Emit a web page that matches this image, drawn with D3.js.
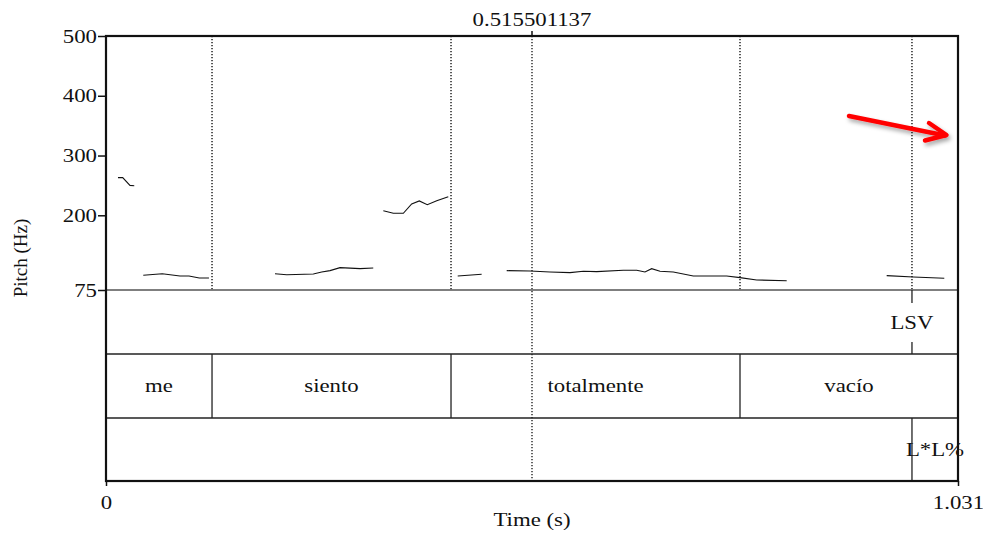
<!DOCTYPE html>
<html>
<head>
<meta charset="utf-8">
<script src="https://cdn.jsdelivr.net/npm/d3@7"></script>
<style>
  html, body { margin: 0; padding: 0; background: #fff; }
  svg { display: block; }
  text { font-family: "Liberation Serif", "Times New Roman", serif; fill: #111; }
</style>
</head>
<body>
<svg id="chart" width="983" height="534"></svg>
<script>
// Pitch contour (time in s, F0 in Hz), one array per voiced stretch
const pitchSeg1 = [[0.0145, 263], [0.0202, 263], [0.0290, 250], [0.0342, 249.5]];
const pitchSeg2 = [[0.0451, 99.6], [0.0681, 102.3], [0.0895, 98.5], [0.1004, 98.5], [0.1129, 95.1], [0.1246, 95.1]];
const pitchSeg3 = [[0.2045, 102.3], [0.2187, 100.6], [0.2509, 101.8], [0.2610, 105.2], [0.2711, 107.4], [0.2832, 112.4], [0.3074, 110.7], [0.3234, 111.9]];
const pitchSeg4 = [[0.3356, 207.7], [0.3477, 203.4], [0.3598, 203.4], [0.3699, 218.9], [0.3791, 224], [0.3888, 217.8], [0.4002, 224.5], [0.4142, 231.1]];
const pitchSeg5 = [[0.4256, 98.5], [0.4546, 101.3]];
const pitchSeg6 = [[0.4849, 107.4], [0.5131, 106.8], [0.5373, 105.2], [0.5615, 104], [0.5776, 106.3], [0.5938, 105.7], [0.6260, 108], [0.6422, 108], [0.6522, 105.2], [0.6603, 110.7], [0.6704, 106.3], [0.6865, 105.2], [0.7107, 98.5], [0.7511, 98.5], [0.7672, 95.7], [0.7874, 91.8], [0.8237, 90.6]];
const pitchSeg7 = [[0.9447, 99], [0.9769, 96.8], [1.0144, 94.6]];
const pitchSegments = [pitchSeg1, pitchSeg2, pitchSeg3, pitchSeg4, pitchSeg5, pitchSeg6, pitchSeg7];

// Tier 1 (point tier)
const pointTimes = [0.9753];
const pointLabels = ["LSV"];
// Tier 2 (words, interval tier)
const wordBounds = [0, 0.1283, 0.4175, 0.7672, 1.031];
const wordLabels = ["me", "siento", "totalmente", "vacío"];
// Tier 3 (tones, interval tier)
const toneBounds = [0, 0.9753, 1.031];
const toneLabels = ["", "L*L%"];

const cursorTime = 0.515501137;
const timeDomain = [0, 1.031];
const pitchDomain = [75, 500];
const pitchTicks = [75, 200, 300, 400, 500];
const timeTicks = [0, 1.031];

(function draw() {
  const plotLeft = 106, plotRight = 958, plotTop = 36, pitchBottom = 290, tierH = 64, nTiers = 3;
  const plotBottom = pitchBottom + tierH * nTiers - 1;
  const FS = 19, SX = 1.2; // text size and horizontal stretch
  const SERIF = "Liberation Serif, Times New Roman, serif";

  const svg = d3.select("#chart");
  const x = d3.scaleLinear().domain(timeDomain).range([plotLeft, plotRight]);
  const y = d3.scaleLinear().domain(pitchDomain).range([pitchBottom, plotTop]);

  function label(g, px, py, str, anchor) {
    g.append("text")
      .attr("transform", `translate(${px},${py}) scale(${SX},1)`)
      .attr("text-anchor", anchor || "middle")
      .attr("font-family", SERIF)
      .attr("font-size", FS)
      .text(str);
  }

  // shadow for the annotation arrow
  const defs = svg.append("defs");
  const f = defs.append("filter").attr("id", "shadow")
    .attr("x", "-20%").attr("y", "-50%").attr("width", "140%").attr("height", "200%");
  f.append("feDropShadow").attr("dx", 2).attr("dy", 3).attr("stdDeviation", 2)
    .attr("flood-color", "#000").attr("flood-opacity", 0.35);

  // dotted boundary lines through the pitch area
  const allBounds = [wordBounds[1], wordBounds[2], wordBounds[3], toneBounds[1]];
  svg.append("g").selectAll("line").data(allBounds).join("line")
    .attr("x1", d => x(d)).attr("x2", d => x(d))
    .attr("y1", plotTop).attr("y2", pitchBottom)
    .attr("stroke", "#000").attr("stroke-width", 1.3).attr("stroke-dasharray", "1.3,1.7");

  // cursor
  svg.append("line")
    .attr("x1", x(cursorTime)).attr("x2", x(cursorTime))
    .attr("y1", plotTop).attr("y2", plotBottom)
    .attr("stroke", "#111").attr("stroke-width", 1.3).attr("stroke-dasharray", "1.3,1.7");
  svg.append("line")
    .attr("x1", x(cursorTime)).attr("x2", x(cursorTime))
    .attr("y1", plotTop - 5).attr("y2", plotTop)
    .attr("stroke", "#111").attr("stroke-width", 1.5);
  label(svg, x(cursorTime), 25.5, d3.format(".9f")(cursorTime));

  // pitch contour
  const line = d3.line().x(d => x(d[0])).y(d => y(d[1]));
  svg.append("g").selectAll("path").data(pitchSegments).join("path")
    .attr("d", line).attr("fill", "none").attr("stroke", "#111").attr("stroke-width", 1.1);

  // tier separators
  const tierTops = d3.range(nTiers).map(i => pitchBottom + i * tierH);
  svg.append("g").selectAll("line").data(tierTops).join("line")
    .attr("x1", plotLeft).attr("x2", plotRight)
    .attr("y1", d => d).attr("y2", d => d)
    .attr("stroke", (d, i) => i === 0 ? "#555" : "#222").attr("stroke-width", 1.4);

  // tier 1: points
  const t1 = tierTops[0];
  pointTimes.forEach((t, i) => {
    svg.append("line").attr("x1", x(t)).attr("x2", x(t)).attr("y1", t1).attr("y2", t1 + 13)
      .attr("stroke", "#222").attr("stroke-width", 1.3);
    svg.append("line").attr("x1", x(t)).attr("x2", x(t)).attr("y1", t1 + tierH - 12).attr("y2", t1 + tierH)
      .attr("stroke", "#222").attr("stroke-width", 1.3);
    label(svg, x(t), t1 + 38.5, pointLabels[i]);
  });

  // interval tiers
  function intervalTier(bounds, labels, yTop) {
    const g = svg.append("g");
    g.selectAll("line").data(bounds.slice(1, -1)).join("line")
      .attr("x1", d => x(d)).attr("x2", d => x(d))
      .attr("y1", yTop).attr("y2", yTop + tierH)
      .attr("stroke", "#222").attr("stroke-width", 1.3);
    labels.forEach((s, i) => {
      if (s) label(g, (x(bounds[i]) + x(bounds[i + 1])) / 2, yTop + 38, s);
    });
  }
  intervalTier(wordBounds, wordLabels, tierTops[1]);
  intervalTier(toneBounds, toneLabels, tierTops[2]);

  // frame
  svg.append("rect").attr("x", plotLeft).attr("y", plotTop)
    .attr("width", plotRight - plotLeft).attr("height", plotBottom - plotTop)
    .attr("fill", "none").attr("stroke", "#111").attr("stroke-width", 2.2);

  // pitch axis
  const yAxis = svg.append("g").attr("transform", `translate(${plotLeft},0)`)
    .call(d3.axisLeft(y).tickValues(pitchTicks).tickSize(8).tickPadding(1).tickFormat(d3.format("d")));
  yAxis.attr("font-family", SERIF);
  yAxis.select(".domain").remove();
  yAxis.selectAll(".tick line").attr("stroke", "#111").attr("stroke-width", 1.5);
  yAxis.selectAll(".tick text")
    .attr("font-size", FS).attr("fill", "#111").attr("dy", "0.32em")
    .attr("x", 0)
    .attr("transform", `translate(-9,0) scale(${SX},1)`);

  // time axis
  const xAxis = svg.append("g").attr("transform", `translate(0,${plotBottom})`)
    .call(d3.axisBottom(x).tickValues(timeTicks).tickSize(5).tickPadding(10)
      .tickFormat(d => d === 0 ? "0" : d3.format(".3f")(d)));
  xAxis.attr("font-family", SERIF);
  xAxis.select(".domain").remove();
  xAxis.selectAll(".tick line").attr("stroke", "#111").attr("stroke-width", 1.5);
  xAxis.selectAll(".tick text")
    .attr("font-size", FS).attr("fill", "#111")
    .attr("transform", `scale(${SX},1)`);

  // axis titles
  label(svg, (plotLeft + plotRight) / 2, 526, "Time (s)");
  svg.append("text")
    .attr("transform", `translate(27,258) rotate(-90)`)
    .attr("text-anchor", "middle").attr("font-size", FS).attr("font-family", SERIF)
    .text("Pitch (Hz)");

  // annotation arrow
  const arrow = svg.append("g").attr("filter", "url(#shadow)")
    .attr("fill", "none").attr("stroke", "#ff0000").attr("stroke-width", 4.5)
    .attr("stroke-linecap", "round").attr("stroke-linejoin", "round");
  arrow.append("path").attr("d", "M849,116 L945,135.5");
  arrow.append("path").attr("d", "M929,123 L946.5,135 L925,140.5");
})();
</script>
</body>
</html>
